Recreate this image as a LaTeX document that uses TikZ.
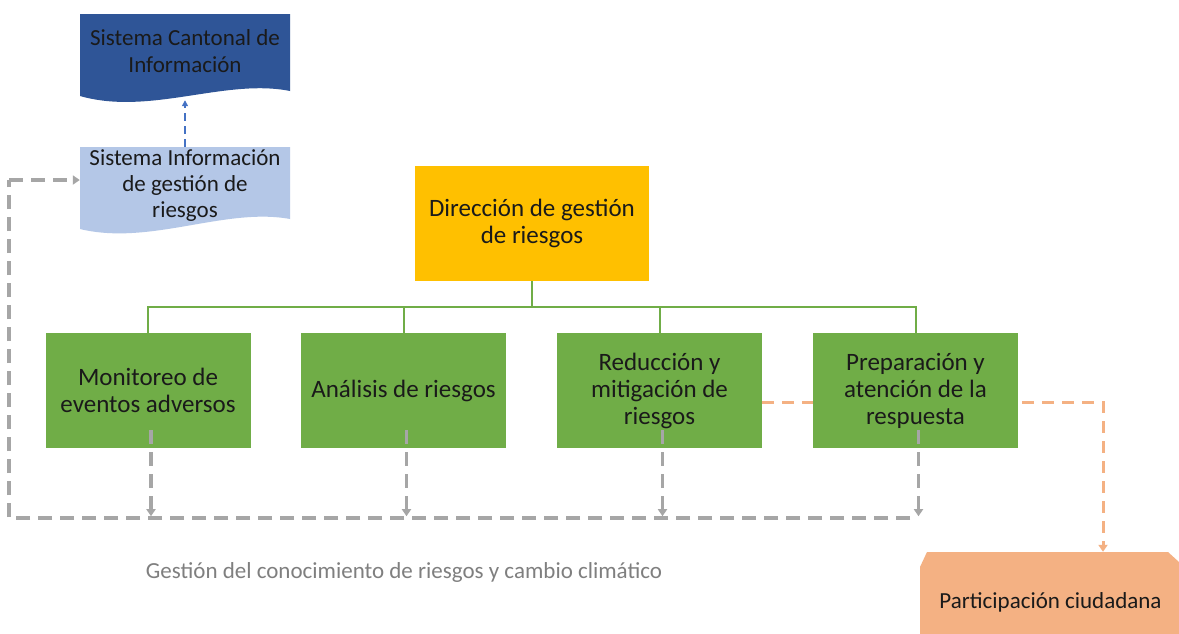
\documentclass[tikz,border=0pt]{standalone}
\usepackage{fontspec}
\setmainfont{Carlito}
\usetikzlibrary{arrows.meta}
\definecolor{dblue}{HTML}{2F5597}
\definecolor{lblue}{HTML}{B4C7E7}
\definecolor{gold}{HTML}{FFC000}
\definecolor{grn}{HTML}{70AD47}
\definecolor{orng}{HTML}{F4B183}
\definecolor{gry}{HTML}{A6A6A6}
\definecolor{bl}{HTML}{4472C4}
\definecolor{txtgray}{HTML}{7F7F7F}
\definecolor{ink}{HTML}{1A1A1A}
\tikzset{
  txt/.style={align=center, text=ink, inner sep=0pt, font=\fontsize{25}{27}\selectfont},
  doctxt/.style={txt, font=\fontsize{23}{26.5}\selectfont},
  frame/.style={inner sep=0pt, minimum width=210pt},
  greenbox/.style={txt, fill=grn, minimum width=205pt, minimum height=115pt},
  goldbox/.style={txt, fill=gold, minimum width=234pt, minimum height=115pt},
  tree/.style={draw=grn, line width=2pt},
  graydash/.style={draw=gry, line width=3.5pt, dash pattern=on 14pt off 8pt, -{Triangle[length=7pt,width=9pt]}},
  graydashline/.style={draw=gry, line width=3.5pt, dash pattern=on 14pt off 8pt},
  orangedash/.style={draw=orng, line width=3pt, dash pattern=on 12pt off 8pt, -{Triangle[length=7pt,width=9pt]}},
  bluedash/.style={draw=bl, line width=2pt, dash pattern=on 8pt off 5pt, -{Triangle[length=6pt,width=6pt]}},
}
\begin{document}
\begin{tikzpicture}[x=1pt,y=-1pt]
\useasboundingbox (0,0) rectangle (1179,633);
\clip (0,0) rectangle (1179,633);
\fill[white] (0,0) rectangle (1179,633);

% document shapes
\fill[dblue] (80,14) -- (290,14) -- (290,91) .. controls (225,78) and (150,116) .. (80,96) -- cycle;
\fill[lblue] (80,147) -- (290,147) -- (290,219) .. controls (225,207) and (150,246) .. (80,229) -- cycle;

\node[frame, minimum height=86pt] (cant) at (185,57) {};
\node[doctxt] (cantT) at (185,51) {Sistema Cantonal de\\Información};
\node[frame, minimum height=78pt, doctxt, font=\fontsize{23}{26}\selectfont] (info) at (185,186) {Sistema Información\\de gestión de\\riesgos};

\draw[bluedash] (info.north) -- (cant.south);

% direction
\node[goldbox] (dir) at (532,223.5) {Dirección de gestión\\de riesgos};

% participation shape
\fill[orng] (920,567) -- (927,552) -- (1168,552) -- (1179,562) -- (1179,640) -- (920,640) -- cycle;
\node[txt, font=\fontsize{23}{27}\selectfont, minimum width=259pt, minimum height=100pt] (part) at (1050.5,602) {Participación ciudadana};

% green boxes
\coordinate (oc) at (1103,402);
\node[greenbox] (b1) at (148,390.5) {Monitoreo de\\eventos adversos};
\node[greenbox] (b2) at (403.5,390.5) {Análisis de riesgos};
\node[greenbox] (b3) at (659.5,390.5) {Reducción y\\mitigación de\\riesgos};
\draw[orangedash] ([yshift=-11.5pt]b3.east) -- (oc) -- (oc |- part.north);
\node[greenbox] (b4) at (915.5,390.5) {Preparación y\\atención de la\\respuesta};

% tree
\coordinate (bus) at (532,307);
\draw[tree] (dir.south) -- (bus);
\draw[tree] (b1.north) -- (b1.north |- bus) -- (b4.north |- bus) -- (b4.north);
\draw[tree] (b2.north) -- (b2.north |- bus);
\draw[tree] (b3.north) -- (b3.north |- bus);

% gray knowledge flow
\coordinate (gl) at (9,518);
\coordinate (gr) at (910,518);
\coordinate (gup) at (9,180);
\draw[graydashline] (gr) -- (gl) -- (gup);
\draw[graydash] (gup) -- ([yshift=6pt]info.west);
\foreach \b in {b1,b2,b3,b4}{
  \draw[graydash] ([xshift=3pt,yshift=18pt]\b.south) -- ([xshift=3pt,yshift=-68pt]\b.south);
}

\node[txt, text=txtgray, font=\fontsize{23}{27}\selectfont] (gest) at (404,572) {Gestión del conocimiento de riesgos y cambio climático};
\end{tikzpicture}
\end{document}
